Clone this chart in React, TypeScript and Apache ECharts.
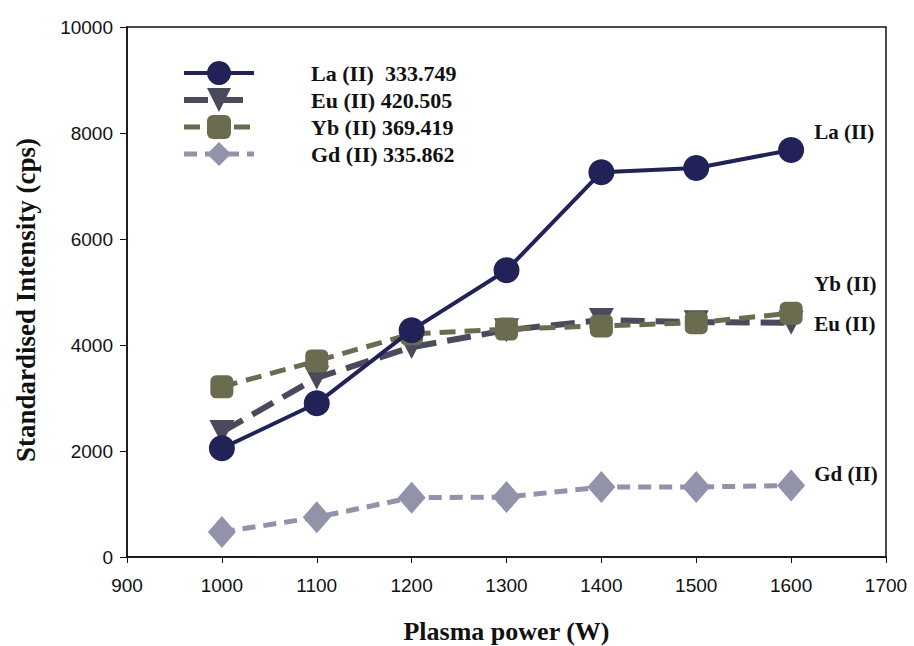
import React, { useEffect, useRef } from "react";
import * as echarts from "echarts";

const powers = [1000, 1100, 1200, 1300, 1400, 1500, 1600];
const laValues = [2050, 2900, 4280, 5410, 7260, 7340, 7680];
const euValues = [2360, 3380, 3960, 4280, 4470, 4430, 4420];
const ybValues = [3210, 3700, 4210, 4300, 4360, 4420, 4600];
const gdValues = [470, 750, 1120, 1130, 1320, 1320, 1350];

const seriesNames = ["La (II)  333.749", "Eu (II) 420.505", "Yb (II) 369.419", "Gd (II) 335.862"];
const endNames = ["La (II)", "Eu (II)", "Yb (II)", "Gd (II)"];

const serif = "'Liberation Serif', 'DejaVu Serif', serif";
const sans = "'Liberation Sans', Arial, sans-serif";

export default function App() {
  const ref = useRef<HTMLDivElement>(null);
  useEffect(() => {
    if (!ref.current) return;
    const chart = echarts.init(ref.current, undefined, { renderer: "svg" });
    const pair = (vals: number[]) => powers.map((p, i) => [p, vals[i]]);
    const endLabel = (text: string, offset: number[]) => ({
      show: true,
      formatter: () => text,
      distance: 0,
      offset,
      fontFamily: serif,
      fontWeight: "bold",
      fontSize: 21,
      color: "#111",
    });
    chart.setOption({
      animation: false,
      backgroundColor: "#ffffff",
      grid: {
        left: 127,
        right: 28,
        top: 27,
        bottom: 89,
        outerBoundsMode: "none",
        containLabel: false,
        show: true,
        borderColor: "#111",
        borderWidth: 1.5,
        backgroundColor: "transparent",
      },
      legend: {
        orient: "vertical",
        left: 176,
        top: 56,
        itemWidth: 70,
        itemHeight: 30,
        itemGap: 3,
        lineStyle: { width: "inherit", type: "inherit" },
        data: [
          { name: seriesNames[0] },
          { name: seriesNames[1] },
          { name: seriesNames[2] },
          { name: seriesNames[3] },
        ],
        textStyle: {
          fontFamily: serif,
          fontWeight: "bold",
          fontSize: 22,
          color: "#111",
          padding: [0, 0, 0, 52],
        },
      },
      xAxis: {
        type: "value",
        min: 900,
        max: 1700,
        interval: 100,
        name: "Plasma power (W)",
        nameLocation: "middle",
        nameGap: 61,
        nameTextStyle: {
          fontFamily: serif,
          fontWeight: "bold",
          fontSize: 26,
          lineHeight: 26,
          color: "#111",
        },
        axisLine: { show: true, lineStyle: { color: "#111", width: 1.5 } },
        axisTick: { show: true, length: 6, lineStyle: { color: "#111" } },
        axisLabel: {
          fontFamily: sans,
          fontSize: 19,
          color: "#111",
          margin: 19,
          formatter: (v: number) => String(v),
        },
        splitLine: { show: false },
      },
      yAxis: {
        type: "value",
        min: 0,
        max: 10000,
        interval: 2000,
        name: "Standardised Intensity (cps)",
        nameLocation: "middle",
        nameGap: 88,
        nameTextStyle: {
          fontFamily: serif,
          fontWeight: "bold",
          fontSize: 27,
          color: "#111",
          padding: [0, 16, 0, 0],
        },
        axisLine: { show: true, lineStyle: { color: "#111", width: 1.5 } },
        axisTick: { show: true, length: 7, lineStyle: { color: "#111" } },
        axisLabel: {
          fontFamily: sans,
          fontSize: 19,
          color: "#111",
          margin: 14,
          formatter: (v: number) => String(v),
        },
        splitLine: { show: false },
      },
      series: [
        {
          name: seriesNames[1],
          type: "line",
          data: pair(euValues),
          symbol: "triangle",
          symbolRotate: 180,
          symbolSize: [25, 24],
          itemStyle: { color: "#4a4a5c" },
          lineStyle: { color: "#4a4a5c", width: 6, type: [24, 11] },
          endLabel: endLabel(endNames[1], [23, 1]),
          z: 2,
        },
        {
          name: seriesNames[2],
          type: "line",
          data: pair(ybValues),
          symbol: "roundRect",
          symbolSize: 23,
          itemStyle: { color: "#6b6b4f" },
          lineStyle: { color: "#6b6b4f", width: 5, type: [16, 9] },
          endLabel: endLabel(endNames[2], [23, -29]),
          z: 3,
        },
        {
          name: seriesNames[3],
          type: "line",
          data: pair(gdValues),
          symbol: "diamond",
          symbolSize: [28, 32],
          itemStyle: { color: "#9292aa" },
          lineStyle: { color: "#9292aa", width: 5, type: [13, 8] },
          endLabel: endLabel(endNames[3], [23, -11]),
          z: 2,
        },
        {
          name: seriesNames[0],
          type: "line",
          data: pair(laValues),
          symbol: "circle",
          symbolSize: 26,
          itemStyle: { color: "#202258" },
          lineStyle: { color: "#202258", width: 4 },
          endLabel: endLabel(endNames[0], [23, -18]),
          z: 4,
        },
      ],
    });
    return () => chart.dispose();
  }, []);
  return <div ref={ref} style={{ width: 914, height: 646, position: "absolute", left: 0, top: 0 }} />;
}
